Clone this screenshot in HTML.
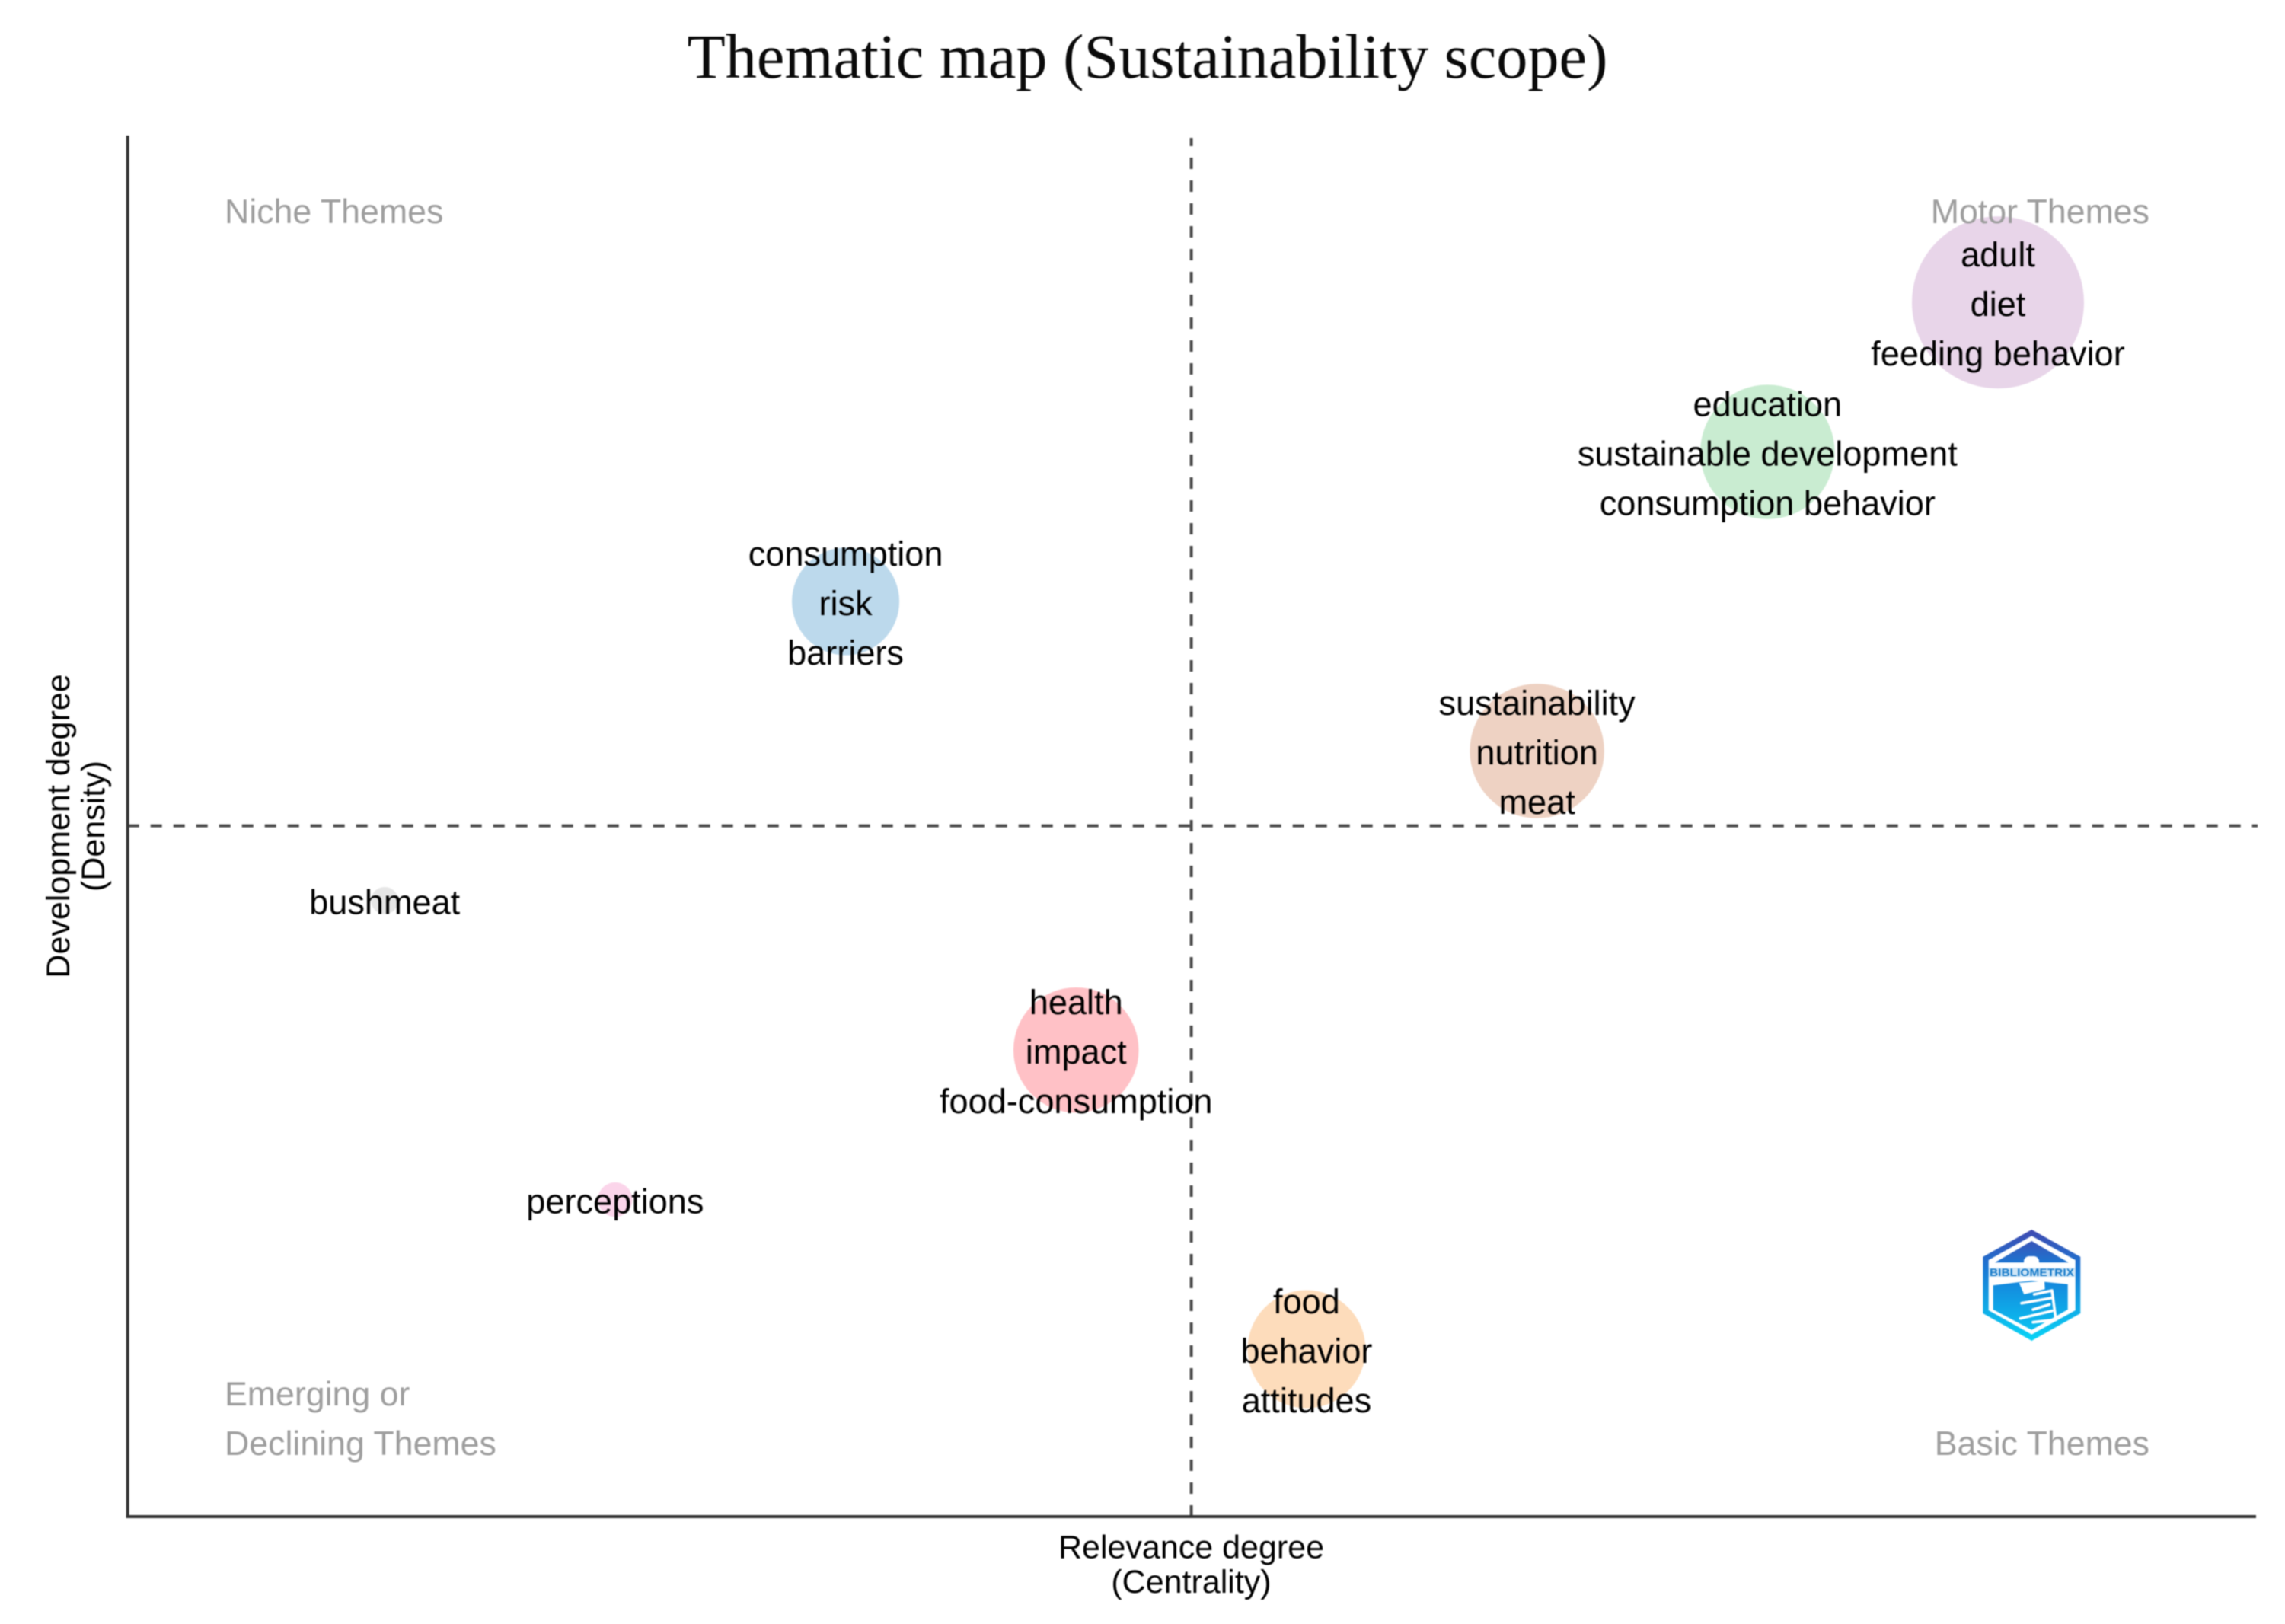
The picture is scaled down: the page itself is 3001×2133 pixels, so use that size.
<!DOCTYPE html>
<html lang="en">
<head>
<meta charset="utf-8">
<title>Thematic map (Sustainability scope)</title>
<style>
html,body{margin:0;padding:0;background:#fff;width:3001px;height:2133px;overflow:hidden}
svg{display:block;filter:blur(0.7px)}
text{font-family:"Liberation Sans",Arial,sans-serif}
</style>
</head>
<body>
<svg id="chart" xmlns="http://www.w3.org/2000/svg" width="3001" height="2133" viewBox="0 0 3001 2133">
  <defs>
    <linearGradient id="logoGrad" x1="0" y1="0" x2="0" y2="1">
      <stop offset="0" stop-color="#4049b0"/>
      <stop offset="0.35" stop-color="#1a78d4"/>
      <stop offset="1" stop-color="#08d4f6"/>
    </linearGradient>
    <linearGradient id="logoRoof" x1="0" y1="0" x2="0" y2="1">
      <stop offset="0" stop-color="#3a55b8"/>
      <stop offset="1" stop-color="#1c74d0"/>
    </linearGradient>
    <linearGradient id="logoPanel" x1="0" y1="0" x2="0" y2="1">
      <stop offset="0" stop-color="#1586dc"/>
      <stop offset="1" stop-color="#0ac0f0"/>
    </linearGradient>
  </defs>
  <rect x="0" y="0" width="3001" height="2133" fill="#fff"/>
  <text x="1507" y="102" text-anchor="middle" font-size="82.3" fill="#0a0a0a" style="font-family:'Liberation Serif',serif">Thematic map (Sustainability scope)</text>
  <g id="marks"></g>
  <g font-size="44.7" fill="#9e9e9e">
    <text x="295" y="293">Niche Themes</text>
    <text x="2823" y="293" text-anchor="end">Motor Themes</text>
    <text x="295" y="1846">Emerging or</text>
    <text x="295" y="1911">Declining Themes</text>
    <text x="2823" y="1911" text-anchor="end">Basic Themes</text>
  </g>
  <g font-size="43" fill="#000" text-anchor="middle">
    <text x="1564.5" y="2046.5">Relevance degree</text>
    <text x="1564.5" y="2092">(Centrality)</text>
  </g>
  <g font-size="43" fill="#000" text-anchor="middle">
    <text transform="translate(91 1085) rotate(-90)">Development degree</text>
    <text transform="translate(137 1085) rotate(-90)">(Density)</text>
  </g>
  <g>
    <polygon points="2668.3,1615 2732.3,1650.7 2732.3,1725 2668.3,1761 2604.3,1725 2604.3,1650.7" fill="url(#logoGrad)"/>
    <polygon points="2668.3,1623.3 2725.7,1655 2725.7,1721 2668.3,1752.7 2611.7,1721 2611.7,1655" fill="#fff"/>
    <polygon points="2668.3,1630 2716.7,1658.3 2620,1658.3" fill="url(#logoRoof)"/>
    <polygon points="2617.7,1688.3 2668,1682 2715.7,1686.7 2715.7,1720 2668.3,1746.7 2617.7,1720" fill="url(#logoPanel)"/>
    <rect x="2658" y="1650" width="20" height="18" rx="7" fill="#fff"/>
    <rect x="2612" y="1665" width="113" height="12" fill="#cfe6f7"/>
    <polygon points="2651.7,1685 2685,1682.3 2685.7,1693.3 2658.3,1700" fill="#fff"/>
    <path d="M2671.7 1700 L2695 1695 L2700 1733.3 L2670 1736.7 M2655 1711.7 L2693.3 1705 M2670 1720 L2691.7 1713.3 M2653.3 1731.7 L2695 1721.7" fill="none" stroke="#fff" stroke-width="3.6" stroke-linecap="round" stroke-linejoin="round"/>
    <text x="2668.5" y="1676" text-anchor="middle" font-size="14" font-weight="bold" fill="#1378c8" textLength="111" lengthAdjust="spacingAndGlyphs">BIBLIOMETRIX</text>
  </g>
</svg>
<script>
// Cluster data (rank-based centrality and density, as in bibliometrix maps)
const clusters = ["adult", "education", "consumption", "sustainability", "bushmeat", "health", "perceptions", "food"];
const centrality = [8, 7, 3, 6, 1, 4, 2, 5];
const density = [8, 7, 6, 5, 4, 3, 2, 1];
const frequency = [100, 61, 39, 61, 2.5, 53, 4, 47];
const line1 = ["adult", "education", "consumption", "sustainability", "", "health", "", "food"];
const line2 = ["diet", "sustainable development", "risk", "nutrition", "bushmeat", "impact", "perceptions", "behavior"];
const line3 = ["feeding behavior", "consumption behavior", "barriers", "meat", "", "food-consumption", "", "attitudes"];
const bubbleColors = ["#e8d5e9", "#c9ecd1", "#bcd9ec", "#eed2c3", "#e6e6e6", "#ffc1c6", "#fbd5ea", "#fddcbb"];
const xDomain = [-0.115, 9.12];
const yDomain = [-0.12, 9.116];

const SVGNS = "http://www.w3.org/2000/svg";
const plotLeft = 167.7, plotRight = 2963, plotBottom = 1992, plotTop = 178;
function xScale(v) { return plotLeft + (v - xDomain[0]) / (xDomain[1] - xDomain[0]) * (plotRight - plotLeft); }
function yScale(v) { return plotBottom - (v - yDomain[0]) / (yDomain[1] - yDomain[0]) * (plotBottom - plotTop); }
function rScale(v) { return 113 * Math.sqrt(v / 100); }
function labelY(v) { return yScale(v) + 17.8; }
function mean(a) { return a.reduce(function (s, v) { return s + v; }, 0) / a.length; }
const marks = document.getElementById("marks");

function makeLine(x1, y1, x2, y2, stroke, width, dash) {
  const l = document.createElementNS(SVGNS, "line");
  l.setAttribute("x1", x1);
  l.setAttribute("y1", y1);
  l.setAttribute("x2", x2);
  l.setAttribute("y2", y2);
  l.setAttribute("stroke", stroke);
  l.setAttribute("stroke-width", width);
  if (dash) l.setAttribute("stroke-dasharray", dash);
  marks.appendChild(l);
  return l;
}

clusters.forEach(function (name, i) {
  const c = document.createElementNS(SVGNS, "circle");
  c.setAttribute("cx", xScale(centrality[i]));
  c.setAttribute("cy", yScale(density[i]));
  c.setAttribute("r", rScale(frequency[i]));
  c.setAttribute("fill", bubbleColors[i]);
  
  
  marks.appendChild(c);
});

const vMean = makeLine(xScale(mean(centrality)), plotBottom, xScale(mean(centrality)), plotTop + 3, "#4d4d4d", 4, "15 15");


const hMean = makeLine(plotLeft, yScale(mean(density)), 2965, yScale(mean(density)), "#4d4d4d", 4, "15 15");


const yAxis = makeLine(plotLeft, plotTop, plotLeft, plotBottom + 2, "#333", 4);


const xAxis = makeLine(plotLeft - 2, plotBottom, plotRight, plotBottom, "#333", 4);



clusters.forEach(function (name, i) {
  [line1[i], line2[i], line3[i]].forEach(function (label, k) {
    if (!label) return;
    const t = document.createElementNS(SVGNS, "text");
    t.setAttribute("x", xScale(centrality[i]));
    t.setAttribute("y", labelY(density[i]) + (k - 1) * 65);
    t.setAttribute("text-anchor", "middle");
    t.setAttribute("font-size", "45.1");
    t.setAttribute("fill", "#000");
    
    
    t.textContent = label;
    marks.appendChild(t);
  });
});
</script>
</body>
</html>
